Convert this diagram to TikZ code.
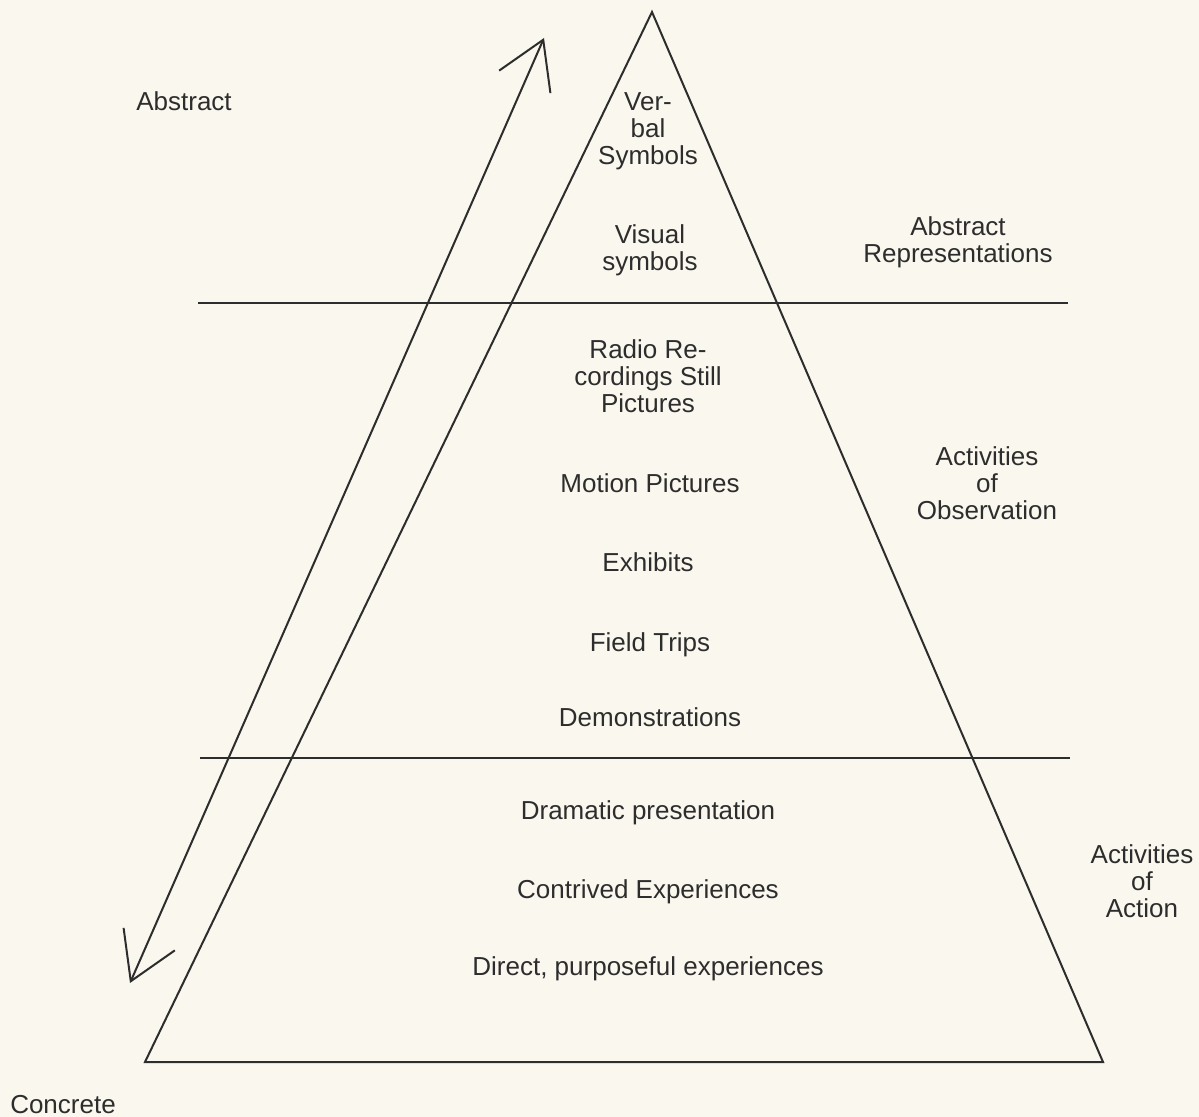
\documentclass[tikz,border=0pt]{standalone}
\usepackage{fontspec}
\setmainfont{Liberation Sans}
\usetikzlibrary{arrows.meta}
\definecolor{paper}{RGB}{250,248,238}
\definecolor{ink}{RGB}{45,45,45}
\begin{document}
\begin{tikzpicture}[x=0.5pt,y=-0.5pt,
  lbl/.style={font=\fontsize{13}{13.4}\selectfont, text=ink, align=center, inner sep=0pt},
  edge/.style={draw=ink, line width=1pt},
  barb/.style={{Straight Barb[length=23pt,width=28pt,line width=1pt]}-{Straight Barb[length=23pt,width=28pt,line width=1pt]}}]
\fill[paper] (0,0) rectangle (1199,1117);
\useasboundingbox (0,0) rectangle (1199,1117);
% triangle
\coordinate (apex) at (652,12);
\coordinate (bl) at (145,1062);
\coordinate (br) at (1103,1062);
\draw[edge, line join=miter] (apex) -- (br) -- (bl) -- cycle;
% dividers
\coordinate (h1a) at (198,303);
\coordinate (h1b) at (1068,303);
\coordinate (h2a) at (200,758);
\coordinate (h2b) at (1070,758);
\draw[edge] (h1a) -- (h1b);
\draw[edge] (h2a) -- (h2b);
% double arrow
\coordinate (arrtop) at (544,38);
\coordinate (arrbot) at (130,983);
\draw[edge, barb] (arrbot) -- (arrtop);
% labels
\node[lbl] (abstract) at (184,101) {Abstract};
\node[lbl] (concrete) at (63,1105) {Concrete};
\node[lbl] (verbal) at (648,131) {Ver-\\bal\\Symbols};
\node[lbl] (visual) at (650,250) {Visual\\symbols};
\node[lbl] (absrep) at (958,242) {Abstract\\Representations};
\node[lbl] (radio) at (648,376) {Radio Re-\\cordings Still\\Pictures};
\node[lbl] (motion) at (650,483) {Motion Pictures};
\node[lbl] (obs) at (987,483) {Activities\\of\\Observation};
\node[lbl] (exhibits) at (648,562) {Exhibits};
\node[lbl] (field) at (650,645) {Field Trips};
\node[lbl] (demo) at (650,717) {Demonstrations};
\node[lbl] (drama) at (648,813) {Dramatic presentation};
\node[lbl] (contrived) at (648,892) {Contrived Experiences};
\node[lbl] (direct) at (648,969) {Direct, purposeful experiences};
\node[lbl] (action) at (1142,881) {Activities\\of\\Action};
\end{tikzpicture}
\end{document}
